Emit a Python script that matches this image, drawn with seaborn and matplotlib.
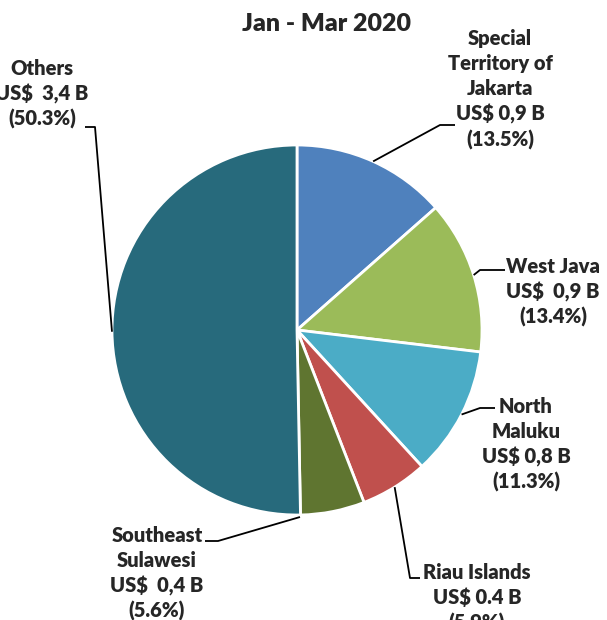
import numpy as np
import matplotlib.pyplot as plt
import seaborn as sns

sns.set_style("white")
plt.rcParams['font.family'] = ['Lato', 'DejaVu Sans']

title = "Jan - Mar 2020"
regions = ["Special\nTerritory of\nJakarta", "West Java", "North\nMaluku",
           "Riau Islands", "Southeast\nSulawesi", "Others"]
values_txt = ["US$ 0,9 B", "US$  0,9 B", "US$ 0,8 B",
              "US$ 0.4 B", "US$  0,4 B", "US$  3,4 B"]
shares = [13.5, 13.4, 11.3, 5.9, 5.6, 50.3]
colors = ["#4F81BD", "#9BBB59", "#4BACC6", "#C0504D", "#5F7530", "#276A7C"]

# label anchor (text centre x, first line centre y) and leader elbow, pixels from top
label_pos = [(500, 37), (553, 265), (526, 405), (477, 571), (157, 534), (42, 67)]
elbows = [((440, 125), (455, 125)), ((480, 270), (505, 270)),
          ((480, 408), (495, 408)), ((410, 578), (420, 578)),
          ((218, 541), (205, 541)), ((95, 127), (85, 127))]

W, H = 607, 620
cx, cy, r = 297, 330, 185
step = 25.2

fig = plt.figure(figsize=(W / 100, H / 100), dpi=100)
ax = fig.add_axes([0, 0, 1, 1])

wedges, _ = ax.pie(shares, colors=colors, startangle=90, counterclock=False,
                   center=(cx, H - cy), radius=r,
                   wedgeprops=dict(edgecolor="white", linewidth=2))
ax.set_xlim(0, W)
ax.set_ylim(0, H)
ax.set_aspect("auto")
ax.axis("off")

for w, lab, val, sh, (lx, ly), (e1, e2) in zip(wedges, regions, values_txt, shares,
                                             label_pos, elbows):
    ang = np.deg2rad((w.theta1 + w.theta2) / 2)
    px = cx + r * np.cos(ang)
    py = H - cy + r * np.sin(ang)
    if lab.startswith("Southeast"):
        # attach near the bottom of the slice like the original
        px, py = 300, H - 517
    ax.plot([px, e1[0], e2[0]], [py, H - e1[1], H - e2[1]], color="black", lw=1.3,
            solid_capstyle="butt")
    lines = lab.split("\n") + [val, f"({sh}%)"]
    for i, t in enumerate(lines):
        ax.text(lx, H - ly - i * step, t, ha="center", va="center_baseline",
                fontsize=14.5, fontweight="heavy")

ax.text(326, H - 24, title, ha="center", va="center", fontsize=18, fontweight="heavy")

fig.savefig("out.png", dpi=100)
